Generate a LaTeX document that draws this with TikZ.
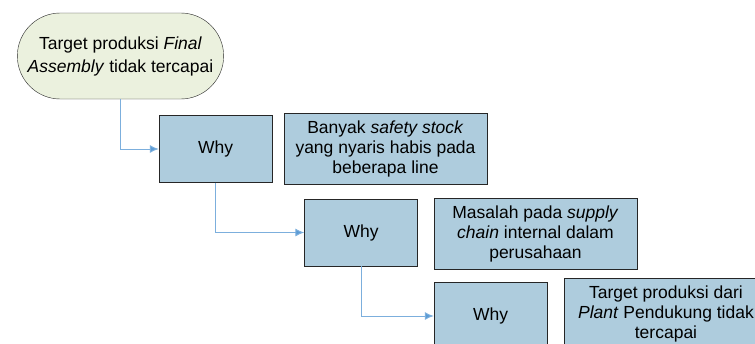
\documentclass[tikz,border=0pt]{standalone}
\usepackage{fontspec}
\setmainfont{Liberation Sans}
\usepackage{tikz}
\usetikzlibrary{shapes.misc,arrows.meta}
\definecolor{startfill}{RGB}{235,241,222}
\definecolor{boxfill}{RGB}{174,204,221}
\definecolor{linkblue}{RGB}{91,155,213}
\tikzstyle{start} = [rounded rectangle, draw=black!85, fill=startfill, minimum width=213pt, minimum height=86pt, align=center]
\tikzstyle{why} = [rectangle, draw=black!85, fill=boxfill, minimum width=113pt, minimum height=67pt]
\tikzstyle{reason} = [rectangle, draw=black!85, fill=boxfill, minimum width=203pt, minimum height=71pt, align=center]
\tikzstyle{connector} = [draw=linkblue!80, line width=1pt, -{Latex[length=9pt,width=8pt,fill=linkblue]}]

\begin{document}
\begin{tikzpicture}[x=1pt,y=-1pt,font=\fontsize{17.5}{20}\selectfont]
                \useasboundingbox (0,0) rectangle (755,343);
                \node (target) [start] at (120.5,56) {Target produksi \textit{Final}\\[3pt]\textit{Assembly} tidak tercapai};
                \node (why1) [why] at (215.5,149) {Why};
                \node (ans1) [reason] at (385.5,148.5) {Banyak \textit{safety stock}\\yang nyaris habis pada\\beberapa line};
                \node (why2) [why] at (361,232.5) {Why};
                \node (ans2) [reason] at (535.5,233.5) {Masalah pada \textit{supply}\\\textit{chain} internal dalam\\perusahaan};
                \node (why3) [why] at (490.5,316) {Why};
                \node (ans3) [reason] at (666,313.5) {Target produksi dari\\\textit{Plant} Pendukung tidak\\tercapai};

                \draw [connector] (target) |- (why1);
                \draw [connector] (why1) |- (why2);
                \draw [connector] (why2) |- (why3);
            \end{tikzpicture}
\end{document}
